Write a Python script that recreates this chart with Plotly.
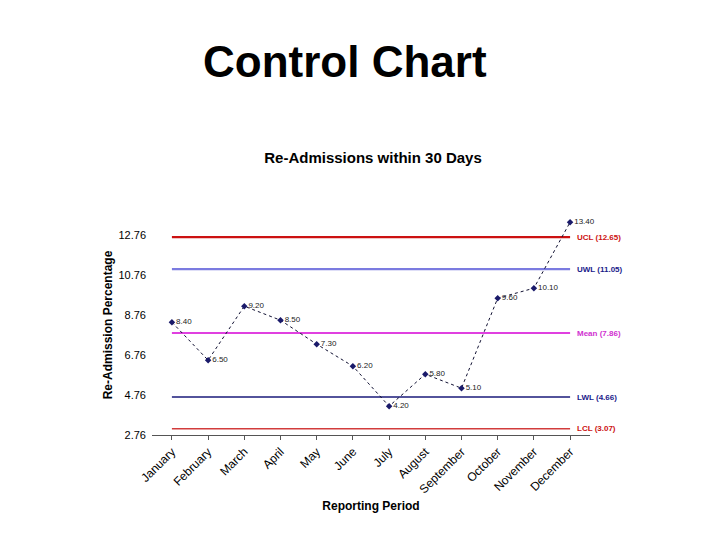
import plotly.graph_objects as go

months = ["January", "February", "March", "April", "May", "June", "July",
          "August", "September", "October", "November", "December"]
values = [8.40, 6.50, 9.20, 8.50, 7.30, 6.20, 4.20, 5.80, 5.10, 9.60, 10.10, 13.40]

limit_names = ["UCL", "UWL", "Mean", "LWL", "LCL"]
limit_values = [12.65, 11.05, 7.86, 4.66, 3.07]
limit_colors = ["#cc1111", "#7b7be0", "#e040e0", "#1a1a7a", "#d23c3c"]
limit_label_colors = ["#cc1111", "#1a1a8a", "#d030d0", "#1a1a8a", "#cc1111"]
limit_widths = [2.2, 2.2, 2.0, 1.4, 1.4]

y_ticks = [2.76, 4.76, 6.76, 8.76, 10.76, 12.76]

x_idx = list(range(len(months)))

# page offset of ~8px (body margin) compensated
L, R, T, B = 144, 138, 207, 113
PW, PH = 720 - L - R, 540 - T - B

fig = go.Figure()

for name, val, col, w in zip(limit_names, limit_values, limit_colors, limit_widths):
    fig.add_trace(go.Scatter(
        x=[x_idx[0], x_idx[-1]], y=[val, val], mode="lines",
        line=dict(color=col, width=w), hoverinfo="skip", showlegend=False))

fig.add_trace(go.Scatter(
    x=x_idx, y=values, mode="lines+markers+text",
    line=dict(color="#111133", width=1, dash="dot"),
    marker=dict(symbol="diamond", size=5, color="#1a1a6a"),
    text=[f"{v:.2f}" for v in values], textposition="middle right",
    textfont=dict(family="Liberation Sans, Arial", size=8, color="#222222"),
    cliponaxis=False, showlegend=False))

for name, val, col in zip(limit_names, limit_values, limit_label_colors):
    fig.add_annotation(
        x=x_idx[-1], y=val, xref="x", yref="y", text=f"<b>{name} ({val:.2f})</b>",
        showarrow=False, xanchor="left", xshift=5,
        font=dict(family="Liberation Sans, Arial", size=8, color=col))

fig.add_annotation(
    x=(337 - L) / PW, y=(540 - B - 53) / PH,
    xref="paper", yref="paper", text="<b>Control Chart</b>", showarrow=False,
    yanchor="middle", xanchor="center",
    font=dict(family="Liberation Sans, Arial", size=44, color="black"))

fig.update_layout(
    width=720, height=540,
    paper_bgcolor="white", plot_bgcolor="white",
    margin=dict(l=L, r=R, t=T, b=B),
    title=dict(text="<b>Re-Admissions within 30 Days</b>", x=365/720, xanchor="center",
               y=1 - 150/540, yanchor="middle",
               font=dict(family="Liberation Sans, Arial", size=15, color="black")),
    font=dict(family="Liberation Sans, Arial", color="black"),
)

fig.update_xaxes(
    range=[-0.55, 11.55], tickmode="array", tickvals=x_idx, ticktext=months,
    tickangle=-45, tickfont=dict(size=12, family="Liberation Sans, Arial"),
    showgrid=False, zeroline=False, showline=True, linecolor="#555555", linewidth=1,
    ticks="outside", ticklen=4, tickcolor="#555555", automargin=False,
    title=dict(text="<b>Reporting Period</b>", font=dict(size=12), standoff=6))

fig.update_yaxes(
    range=[2.76, 13.76], tickmode="array", tickvals=y_ticks,
    ticktext=[f"{t:.2f}" for t in y_ticks],
    tickfont=dict(size=11, family="Liberation Sans, Arial"),
    ticklabelstandoff=5,
    showgrid=False, zeroline=False, showline=False, automargin=False,
    title=dict(text="<b>Re-Admission Percentage</b>", font=dict(size=12), standoff=3))

fig.write_html("out.html")
